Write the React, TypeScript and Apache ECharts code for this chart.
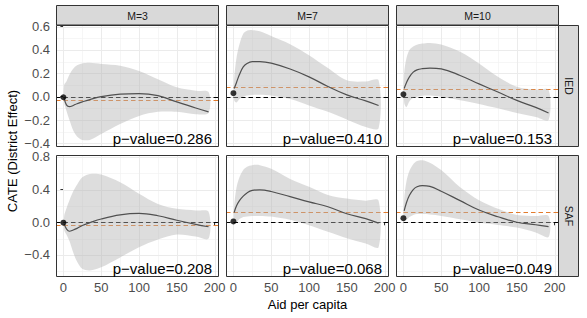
import React, { useEffect, useRef } from "react";
import * as echarts from "echarts";

// ---------- data ----------
const aid = [1, 4, 8, 13, 18, 25, 35, 50, 75, 100, 125, 150, 175, 192];
const colLabels = ["M=3", "M=7", "M=10"];
const rowLabels = ["IED", "SAF"];
const xTicks = [0, 50, 100, 150, 200];
const xMinor = [25, 75, 125, 175];
const yTicksIED = [-0.4, -0.2, 0, 0.2, 0.4, 0.6];
const yMinorIED = [-0.3, -0.1, 0.1, 0.3, 0.5];
const yTicksSAF = [-0.4, 0, 0.4, 0.8];
const yMinorSAF = [-0.6, -0.2, 0.2, 0.6];

const iedM3Fit = [-0.01, -0.07, -0.086, -0.075, -0.06, -0.045, -0.025, 0.0, 0.022, 0.027, 0.009, -0.045, -0.097, -0.13];
const iedM3Lo = [-0.05, -0.12, -0.2, -0.29, -0.34, -0.37, -0.37, -0.32, -0.235, -0.165, -0.13, -0.13, -0.15, -0.14];
const iedM3Hi = [0.1, 0.13, 0.19, 0.24, 0.27, 0.285, 0.29, 0.28, 0.265, 0.22, 0.15, 0.08, 0.05, 0.04];

const iedM7Fit = [0.07, 0.12, 0.19, 0.255, 0.285, 0.3, 0.3, 0.287, 0.237, 0.17, 0.087, 0.015, -0.036, -0.075];
const iedM7Lo = [-0.03, -0.05, -0.02, 0.0, 0.01, 0.015, 0.017, 0.01, -0.02, -0.075, -0.13, -0.195, -0.26, -0.27];
const iedM7Hi = [0.15, 0.33, 0.45, 0.54, 0.565, 0.57, 0.56, 0.52, 0.45, 0.355, 0.245, 0.14, 0.13, 0.14];

const iedM10Fit = [0.07, 0.12, 0.17, 0.21, 0.23, 0.24, 0.245, 0.238, 0.182, 0.11, 0.04, -0.032, -0.092, -0.14];
const iedM10Lo = [-0.05, -0.09, -0.04, -0.01, 0.0, 0.008, 0.01, 0.0, -0.03, -0.062, -0.1, -0.14, -0.175, -0.2];
const iedM10Hi = [0.2, 0.33, 0.4, 0.43, 0.445, 0.455, 0.46, 0.447, 0.385, 0.285, 0.17, 0.085, 0.06, 0.057];

const safM3Fit = [-0.02, -0.08, -0.11, -0.095, -0.075, -0.04, -0.005, 0.04, 0.09, 0.108, 0.08, 0.025, -0.025, -0.055];
const safM3Lo = [-0.09, -0.15, -0.23, -0.37, -0.48, -0.57, -0.59, -0.55, -0.43, -0.305, -0.21, -0.15, -0.175, -0.2];
const safM3Hi = [0.08, 0.17, 0.27, 0.38, 0.46, 0.55, 0.59, 0.585, 0.49, 0.35, 0.225, 0.165, 0.145, 0.13];

const safM7Fit = [0.12, 0.2, 0.265, 0.32, 0.36, 0.39, 0.398, 0.377, 0.314, 0.25, 0.19, 0.105, 0.045, -0.01];
const safM7Lo = [0.04, 0.0, 0.04, 0.065, 0.072, 0.077, 0.078, 0.07, 0.03, -0.035, -0.115, -0.195, -0.26, -0.305];
const safM7Hi = [0.2, 0.42, 0.55, 0.64, 0.68, 0.7, 0.7, 0.655, 0.53, 0.435, 0.335, 0.29, 0.265, 0.265];

const safM10Fit = [0.14, 0.24, 0.33, 0.4, 0.435, 0.45, 0.44, 0.38, 0.265, 0.15, 0.068, 0.0, -0.03, -0.052];
const safM10Lo = [0.01, 0.03, 0.065, 0.09, 0.1, 0.1, 0.095, 0.078, 0.038, -0.003, -0.033, -0.065, -0.125, -0.18];
const safM10Hi = [0.28, 0.5, 0.63, 0.71, 0.75, 0.76, 0.73, 0.64, 0.43, 0.27, 0.165, 0.09, 0.078, 0.078];

const baselineDots = [-0.005, 0.03, 0.02, -0.005, 0.01, 0.05];
const orangeRefs = [-0.025, 0.086, 0.064, -0.03, 0.122, 0.125];
const pValues = ["0.286", "0.410", "0.153", "0.208", "0.068", "0.049"];

const fits = [iedM3Fit, iedM7Fit, iedM10Fit, safM3Fit, safM7Fit, safM10Fit];
const los = [iedM3Lo, iedM7Lo, iedM10Lo, safM3Lo, safM7Lo, safM10Lo];
const his = [iedM3Hi, iedM7Hi, iedM10Hi, safM3Hi, safM7Hi, safM10Hi];

// ---------- layout ----------
const FONT = "'Liberation Sans', Arial, Helvetica, sans-serif";
const LEFTS = [56, 226, 396];
const TOPS = [25, 155];
const PW = 163;
const PH = 122;
const X_RANGE = [-9.8, 205.8];
const Y_RANGES = [
  [-0.431, 0.614],
  [-0.67, 0.824],
];

function fmtY(v: number) {
  const s = Math.abs(v).toFixed(1);
  return (v < -1e-9 ? "\u2212" : "") + s;
}

// gridline renderers
function vLineItem(style: any) {
  return (params: any, api: any) => {
    const cs = params.coordSys;
    const p = api.coord([api.value(0), 0]);
    const x = Math.round(p[0]) + 0.5;
    return {
      type: "line",
      silent: true,
      shape: { x1: x, y1: cs.y, x2: x, y2: cs.y + cs.height },
      style,
    };
  };
}
function hLineItem(style: any) {
  return (params: any, api: any) => {
    const cs = params.coordSys;
    const p = api.coord([0, api.value(1)]);
    const y = Math.round(p[1]) + 0.5;
    return {
      type: "line",
      silent: true,
      shape: { x1: cs.x, y1: y, x2: cs.x + cs.width, y2: y },
      style,
    };
  };
}
function dashItem(color: string) {
  return (params: any, api: any) => {
    const cs = params.coordSys;
    const p = api.coord([0, api.value(1)]);
    const y = Math.round(p[1]) + 0.5;
    return {
      type: "line",
      silent: true,
      shape: { x1: cs.x, y1: y, x2: cs.x + cs.width, y2: y },
      style: { stroke: color, lineWidth: 1.2, lineDash: [4.5, 3] },
    };
  };
}

function ribbonItem(count: number) {
  return (params: any, api: any) => {
    if (params.dataIndex !== 0) return null;
    const upper: number[][] = [];
    const lower: number[][] = [];
    for (let j = 0; j < count; j++) {
      const x = api.value(0, j);
      upper.push(api.coord([x, api.value(2, j)]));
      lower.push(api.coord([x, api.value(1, j)]));
    }
    const pts = upper.concat(lower.reverse());
    return {
      type: "polygon",
      silent: true,
      shape: { points: pts, smooth: 0.3 },
      style: { fill: "rgba(180,180,180,0.45)" },
    };
  };
}

function buildOption() {
  const grid: any[] = [];
  const xAxis: any[] = [];
  const yAxis: any[] = [];
  const series: any[] = [];
  const graphic: any[] = [];

  const minorStyle = { stroke: "#F2F2F2", lineWidth: 0.7 };
  const majorStyle = { stroke: "#EBEBEB", lineWidth: 1 };

  for (let r = 0; r < 2; r++) {
    for (let c = 0; c < 3; c++) {
      const i = r * 3 + c;
      const L = LEFTS[c];
      const T = TOPS[r];
      grid.push({ left: L, top: T, width: PW, height: PH, show: false });
      xAxis.push({
        gridIndex: i,
        type: "value",
        min: X_RANGE[0],
        max: X_RANGE[1],
        axisLine: { show: false },
        splitLine: { show: false },
        axisTick: {
          show: r === 1,
          customValues: xTicks,
          length: 3,
          lineStyle: { color: "#333333", width: 1 },
        },
        axisLabel: {
          show: r === 1,
          customValues: xTicks,
          margin: 4,
          color: "#4D4D4D",
          fontSize: 13,
          fontFamily: FONT,
        },
      });
      const yt = r === 0 ? yTicksIED : yTicksSAF;
      const ym = r === 0 ? yMinorIED : yMinorSAF;
      yAxis.push({
        gridIndex: i,
        type: "value",
        min: Y_RANGES[r][0],
        max: Y_RANGES[r][1],
        axisLine: { show: false },
        splitLine: { show: false },
        axisTick: {
          show: c === 0,
          customValues: yt,
          length: 3,
          lineStyle: { color: "#333333", width: 1 },
        },
        axisLabel: {
          show: c === 0,
          customValues: yt,
          margin: 6,
          color: "#4D4D4D",
          fontSize: 13,
          fontFamily: FONT,
          formatter: fmtY,
        },
      });

      const common = { xAxisIndex: i, yAxisIndex: i, silent: true };
      // gridlines
      series.push({ ...common, type: "custom", z: 1, data: xMinor.map((v) => [v, 0]), renderItem: vLineItem(minorStyle) });
      series.push({ ...common, type: "custom", z: 1, data: ym.map((v) => [0, v]), renderItem: hLineItem(minorStyle) });
      series.push({ ...common, type: "custom", z: 1, data: xTicks.map((v) => [v, 0]), renderItem: vLineItem(majorStyle) });
      series.push({ ...common, type: "custom", z: 1, data: yt.map((v) => [0, v]), renderItem: hLineItem(majorStyle) });

      // reference dashed lines (zero and estimate)
      series.push({ ...common, type: "custom", z: 2, data: [[0, 0]], renderItem: dashItem("#000000") });
      series.push({ ...common, type: "custom", z: 2, data: [[0, orangeRefs[i]]], renderItem: dashItem("#E37B2C") });

      // ribbon
      series.push({
        ...common,
        type: "custom",
        z: 3,
        data: aid.map((x, j) => [x, los[i][j], his[i][j]]),
        encode: { x: 0, y: [1, 2] },
        renderItem: ribbonItem(aid.length),
      });
      // fitted curve
      series.push({
        ...common,
        type: "line",
        data: aid.map((x, j) => [x, fits[i][j]]),
        symbol: "none",
        showSymbol: false,
        smooth: 0.4,
        lineStyle: { color: "#505050", width: 1.2 },
        z: 4,
      });
      // baseline dot
      series.push({
        ...common,
        type: "scatter",
        data: [[0, baselineDots[i]]],
        symbolSize: 6,
        itemStyle: { color: "#000000" },
        z: 5,
      });

      // panel border
      graphic.push({
        type: "rect",
        z: 100,
        silent: true,
        shape: { x: L + 0.5, y: T + 0.5, width: PW - 1, height: PH - 1 },
        style: { fill: "none", stroke: "#333333", lineWidth: 1 },
      });
      // p-value text
      graphic.push({
        type: "text",
        z: 101,
        silent: true,
        x: L + PW - 7,
        y: T + PH - 1,
        style: {
          text: "p\u2212value=" + pValues[i],
          fill: "#000000",
          font: "15px " + FONT,
          textAlign: "right",
          textVerticalAlign: "bottom",
        },
      });
    }
  }

  // top strips
  for (let c = 0; c < 3; c++) {
    graphic.push({
      type: "rect",
      z: 100,
      silent: true,
      shape: { x: LEFTS[c] + 0.5, y: 5.5, width: PW - 1, height: 19.5 },
      style: { fill: "#D9D9D9", stroke: "#333333", lineWidth: 1 },
    });
    graphic.push({
      type: "text",
      z: 101,
      silent: true,
      x: LEFTS[c] + PW / 2,
      y: 15.5,
      style: {
        text: colLabels[c],
        fill: "#1A1A1A",
        font: "10.5px " + FONT,
        textAlign: "center",
        textVerticalAlign: "middle",
      },
    });
  }
  // right strips
  const SX = LEFTS[2] + PW;
  for (let r = 0; r < 2; r++) {
    graphic.push({
      type: "rect",
      z: 100,
      silent: true,
      shape: { x: SX - 0.5, y: TOPS[r] + 0.5, width: 20, height: PH - 1 },
      style: { fill: "#D9D9D9", stroke: "#333333", lineWidth: 1 },
    });
    graphic.push({
      type: "text",
      z: 101,
      silent: true,
      x: SX + 10,
      y: TOPS[r] + PH / 2,
      rotation: -Math.PI / 2,
      style: {
        text: rowLabels[r],
        fill: "#1A1A1A",
        font: "10.5px " + FONT,
        textAlign: "center",
        textVerticalAlign: "middle",
      },
    });
  }
  // axis titles
  graphic.push({
    type: "text",
    z: 101,
    silent: true,
    x: (LEFTS[0] + SX) / 2,
    y: 304,
    style: {
      text: "Aid per capita",
      fill: "#000000",
      font: "13px " + FONT,
      textAlign: "center",
      textVerticalAlign: "middle",
    },
  });
  graphic.push({
    type: "text",
    z: 101,
    silent: true,
    x: 12,
    y: (TOPS[0] + TOPS[1] + PH) / 2,
    rotation: Math.PI / 2,
    style: {
      text: "CATE (District Effect)",
      fill: "#000000",
      font: "13px " + FONT,
      textAlign: "center",
      textVerticalAlign: "middle",
    },
  });

  return {
    animation: false,
    backgroundColor: "#FFFFFF",
    textStyle: { fontFamily: FONT },
    grid,
    xAxis,
    yAxis,
    series,
    graphic,
  };
}

export default function App() {
  const ref = useRef<HTMLDivElement>(null);
  useEffect(() => {
    if (!ref.current) return;
    const chart = echarts.init(ref.current, null, { renderer: "svg" });
    chart.setOption(buildOption() as any);
    return () => chart.dispose();
  }, []);
  return (
    <div
      ref={ref}
      style={{ position: "fixed", left: 0, top: 0, width: 587, height: 318 }}
    />
  );
}
